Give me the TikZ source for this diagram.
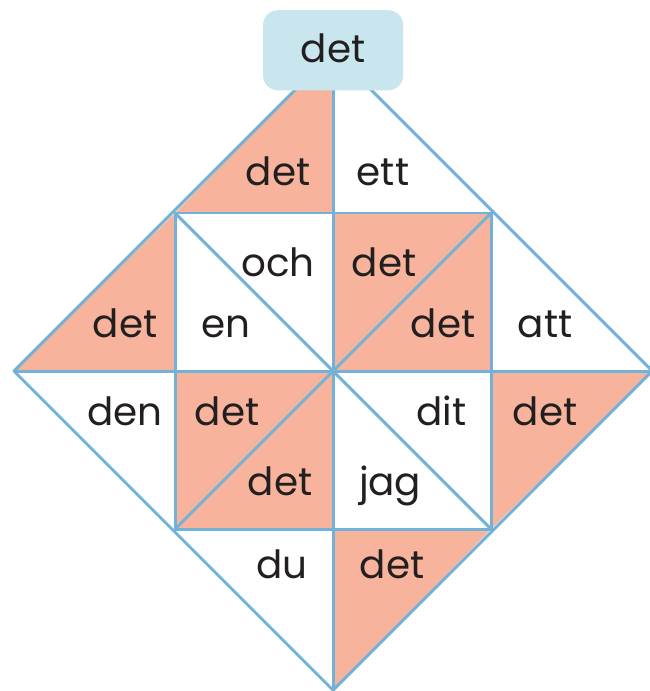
\documentclass[tikz,border=0pt]{standalone}
\usepackage{fontspec}
\usepackage{tikz}

\newfontfamily\wordfont{Poppins}

\definecolor{piecered}{HTML}{F7B39C}
\definecolor{lineblue}{HTML}{72B2D8}
\definecolor{boxblue}{HTML}{C9E6EE}
\definecolor{inkgrey}{HTML}{231F20}

\tikzset{
	word/.style={font=\wordfont\fontsize{21}{25}\selectfont, text=inkgrey, anchor=base, inner sep=0pt},
	piece/.style={fill=piecered},
	grid/.style={draw=lineblue, line width=1.6pt, line join=round},
	titlebox/.style={fill=boxblue, rounded corners=8pt, minimum width=2.66cm, minimum height=1.52cm}
}

\begin{document}
\begin{tikzpicture}[x=3cm, y=3cm]
				\useasboundingbox (-2.108,-2.025) rectangle (2.0,2.348);
				
				% Corners
				\coordinate (O) at (0,0);
				\coordinate (T) at (0,2.02);
				\coordinate (B) at (0,-2.02);
				\coordinate (L) at (-2.02,0);
				\coordinate (R) at (2.02,0);
				\coordinate (tl) at (-1,1);
				\coordinate (tr) at (1,1);
				\coordinate (bl) at (-1,-1);
				\coordinate (br) at (1,-1);
				\coordinate (mt) at (0,1);
				\coordinate (mb) at (0,-1);
				\coordinate (ml) at (-1,0);
				\coordinate (mr) at (1,0);
				
				% Coloured pieces
				\fill[piece] (tl) -- (T) -- (mt) -- cycle;
				\fill[piece] (L) -- (tl) -- (ml) -- cycle;
				\fill[piece] (R) -- (mr) -- (br) -- cycle;
				\fill[piece] (B) -- (mb) -- (br) -- cycle;
				\fill[piece] (mt) -- (tr) -- (mr) -- (O) -- cycle; % upper right square
				\fill[piece] (ml) -- (O) -- (mb) -- (bl) -- cycle; % lower left square
				
				% Lines
				\draw[grid] (T) -- (R) -- (B) -- (L) -- cycle;
				\draw[grid] (tl) -- (tr) -- (br) -- (bl) -- cycle;
				\draw[grid] (T) -- (B);
				\draw[grid] (L) -- (R);
				\draw[grid] (tl) -- (br);
				\draw[grid] (tr) -- (bl);
				
				% Top box
				\node[titlebox] (title) at (0,2.03) {};
				\node[word] (top) at (0,1.95) {det};
				
				% Words
				\node[word] (det1) at (-0.348,1.177) {det};
				\node[word] (ett) at (0.316,1.177) {ett};
				
				\node[word] (och) at (-0.348,0.601) {och};
				\node[word] (det2) at (0.323,0.601) {det};
				
				\node[word] (det3) at (-1.316,0.215) {det};
				\node[word] (en) at (-0.677,0.215) {en};
				\node[word] (det4) at (0.696,0.215) {det};
				\node[word] (att) at (1.342,0.215) {att};
				
				\node[word] (den) at (-1.316,-0.342) {den};
				\node[word] (det5) at (-0.671,-0.342) {det};
				\node[word] (dit) at (0.684,-0.342) {dit};
				\node[word] (det6) at (1.342,-0.342) {det};
				
				\node[word] (det7) at (-0.335,-0.785) {det};
				\node[word] (jag) at (0.361,-0.785) {jag};
				
				\node[word] (du) at (-0.323,-1.316) {du};
				\node[word] (det8) at (0.373,-1.316) {det};
			\end{tikzpicture}
\end{document}
